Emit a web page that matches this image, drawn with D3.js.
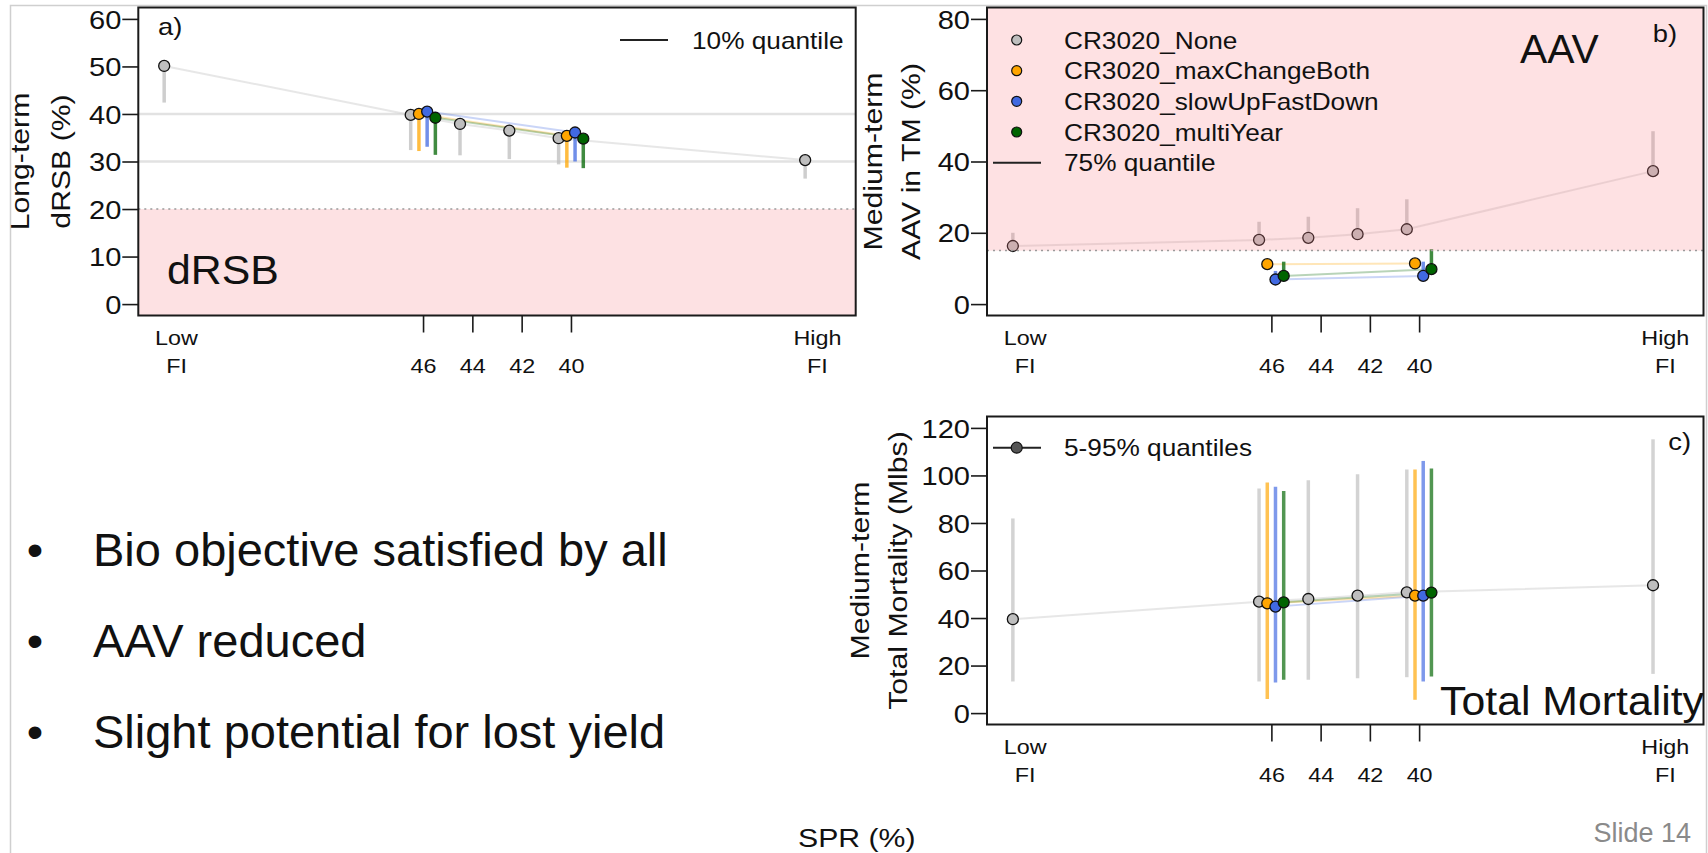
<!DOCTYPE html>
<html>
<head>
<meta charset="utf-8">
<script src="https://cdn.jsdelivr.net/npm/d3@7"></script>
<style>
  html, body { margin: 0; padding: 0; background: #fff; }
  svg { display: block; font-family: "Liberation Sans", Arial, sans-serif; }
</style>
</head>
<body>
<script>
// ===== Data =====
const xCats = ["Low FI", "46", "44", "42", "40", "High FI"];
const xSpr = [56, 46, 44, 42, 40, 30];       // where each category sits on the SPR axis
const spTicks = [46, 44, 42, 40];
const seriesNames = ["CR3020_None", "CR3020_maxChangeBoth", "CR3020_slowUpFastDown", "CR3020_multiYear"];

// a) long-term dRSB (%): median and 10% quantile
const drsbMed = [
  [50.1, 39.8, 37.9, 36.5, 34.9, 30.3],
  [null, 40.0, null, null, 35.4, null],
  [null, 40.5, null, null, 36.1, null],
  [null, 39.2, null, null, 34.8, null]
];
const drsbQ10 = [
  [42.4, 32.4, 31.3, 30.5, 29.4, 26.4],
  [null, 32.2, null, null, 28.7, null],
  [null, 33.1, null, null, 30.0, null],
  [null, 31.4, null, null, 28.6, null]
];

// b) medium-term AAV in TM (%): median and 75% quantile
const aavMed = [
  [16.3, 18.0, 18.6, 19.6, 21.0, 37.3],
  [null, 11.2, null, null, 11.4, null],
  [null, 6.9, null, null, 7.9, null],
  [null, 7.9, null, null, 9.8, null]
];
const aavQ75 = [
  [20.0, 23.1, 24.5, 26.9, 29.4, 48.5],
  [null, 12.3, null, null, 12.5, null],
  [null, 9.3, null, null, 11.9, null],
  [null, 11.9, null, null, 15.4, null]
];

// c) medium-term total mortality (Mlbs): median, 5% and 95% quantiles
const tmMed = [
  [39.5, 46.9, 48.0, 49.4, 50.8, 53.8],
  [null, 46.2, null, null, 49.4, null],
  [null, 44.8, null, null, 49.4, null],
  [null, 46.6, null, null, 50.7, null]
];
const tmQ05 = [
  [13.3, 13.3, 14.0, 14.7, 15.1, 16.5],
  [null, 5.9, null, null, 5.6, null],
  [null, 12.9, null, null, 13.3, null],
  [null, 14.0, null, null, 15.4, null]
];
const tmQ95 = [
  [81.9, 94.5, 98.0, 100.5, 102.5, 115.2],
  [null, 97.0, null, null, 102.5, null],
  [null, 95.2, null, null, 106.1, null],
  [null, 93.5, null, null, 102.9, null]
];

const bullets = ["Bio objective satisfied by all", "AAV reduced", "Slight potential for lost yield"];

// ===== Style =====
const colors = ["#bebebe", "#ffa500", "#4169e1", "#006400"];
const dodge = [0.5, 0.1667, -0.1667, -0.5];   // SPR units, gray sits left of the tick
const SX = 1.14;                               // R text is a little wider than Arial

const svg = d3.select("body").append("svg").attr("width", 1708).attr("height", 853);

function stext(parent, x, y, str, size, o = {}) {
  return parent.append("text")
    .attr("transform", `translate(${x},${y}) rotate(${o.rot || 0}) scale(${o.sx || SX},1)`)
    .attr("text-anchor", o.anchor || "start")
    .attr("fill", o.fill || "#111")
    .style("font-size", size + "px")
    .text(str);
}

// slide frame
svg.append("path").attr("d", "M10.5,853V5.5H1706.5V853")
  .attr("fill", "none").attr("stroke", "#cfcfcf").attr("stroke-width", 1.5);

// ===== Panels =====
function panel(box, yMax, yStep, med, lo, hi, cfg) {
  const x = d3.scaleLinear().domain([57.55, 28.45]).range([box.l, box.r]);
  const pad = yMax * 0.04;
  const y = d3.scaleLinear().domain([-pad, yMax + pad]).range([box.b, box.t]);
  const g = svg.append("g");

  if (cfg.under) cfg.under(g, x, y);

  // connecting lines
  med.forEach((vals, s) => {
    const pts = vals.map((v, i) => ({ v, sp: xSpr[i] + dodge[s] })).filter(d => d.v != null);
    g.append("path").datum(pts)
      .attr("d", d3.line().x(d => x(d.sp)).y(d => y(d.v)))
      .attr("fill", "none")
      .attr("stroke", s === 0 ? "#d0d0d0" : colors[s])
      .attr("stroke-opacity", s === 0 ? 0.5 : 0.28)
      .attr("stroke-width", 2);
  });

  // quantile segments
  med.forEach((vals, s) => {
    vals.forEach((v, i) => {
      if (v == null) return;
      const a = lo ? lo[s][i] : v;
      const b = hi ? hi[s][i] : v;
      g.append("line")
        .attr("x1", x(xSpr[i] + dodge[s])).attr("x2", x(xSpr[i] + dodge[s]))
        .attr("y1", y(a)).attr("y2", y(b))
        .attr("stroke", colors[s]).attr("stroke-opacity", cfg.segAlpha)
        .attr("stroke-width", 3.5);
    });
  });

  // points
  med.forEach((vals, s) => {
    vals.forEach((v, i) => {
      if (v == null) return;
      g.append("circle")
        .attr("cx", x(xSpr[i] + dodge[s])).attr("cy", y(v)).attr("r", 5.5)
        .attr("fill", colors[s]).attr("stroke", "#111").attr("stroke-width", 1.3);
    });
  });

  if (cfg.over) cfg.over(g, x, y);

  // frame
  g.append("rect").attr("x", box.l).attr("y", box.t)
    .attr("width", box.r - box.l).attr("height", box.b - box.t)
    .attr("fill", "none").attr("stroke", "#1a1a1a").attr("stroke-width", 2);

  // y axis
  const ya = g.append("g").attr("transform", `translate(${box.l},0)`)
    .call(d3.axisLeft(y).tickValues(d3.range(0, yMax + 1, yStep)).tickSize(16).tickSizeOuter(0));
  ya.select(".domain").remove();
  ya.selectAll(".tick line").attr("stroke", "#1a1a1a").attr("stroke-width", 1.6);
  ya.selectAll(".tick text")
    .attr("x", null).attr("dy", "0.36em").attr("fill", "#111")
    .attr("transform", `translate(-17,0) scale(${SX},1)`)
    .style("font-size", "25.5px").style("font-family", "Liberation Sans, Arial, sans-serif");

  // x axis
  const xa = g.append("g").attr("transform", `translate(0,${box.b})`)
    .call(d3.axisBottom(x).tickValues(spTicks).tickSize(17).tickFormat(d => d));
  xa.select(".domain").remove();
  xa.selectAll(".tick line").attr("stroke", "#1a1a1a").attr("stroke-width", 1.6);
  xa.selectAll(".tick text")
    .attr("y", null).attr("dy", null).attr("fill", "#111")
    .attr("transform", `translate(0,57) scale(${SX},1)`)
    .style("font-size", "20.5px").style("font-family", "Liberation Sans, Arial, sans-serif");
  [[xSpr[0], "Low"], [xSpr[5], "High"]].forEach(([sp, word]) => {
    stext(g, x(sp), box.b + 29.5, word, 20.5, { anchor: "middle" });
    stext(g, x(sp), box.b + 57, "FI", 20.5, { anchor: "middle" });
  });

  // y title (two lines)
  const cy = (box.t + box.b) / 2;
  stext(g, cfg.ylabX[0], cy, cfg.ylab[0], 26.5, { rot: -90, anchor: "middle" });
  stext(g, cfg.ylabX[1], cy, cfg.ylab[1], 26.5, { rot: -90, anchor: "middle" });

  return { g, x, y };
}

const boxA = { l: 138.3, r: 855.7, t: 7.5, b: 315.5 };
const boxB = { l: 987, r: 1703.5, t: 7.5, b: 315.5 };
const boxC = { l: 987, r: 1703.5, t: 416.5, b: 724.5 };

// a) dRSB
panel(boxA, 60, 10, drsbMed, drsbQ10, null, {
  segAlpha: 0.75,
  ylab: ["Long-term", "dRSB (%)"], ylabX: [29, 70],
  under: (g, x, y) => {
    g.append("rect").attr("x", boxA.l).attr("y", y(20))
      .attr("width", boxA.r - boxA.l).attr("height", boxA.b - y(20)).attr("fill", "#fde1e3");
    g.append("line").attr("x1", boxA.l).attr("x2", boxA.r).attr("y1", y(20)).attr("y2", y(20))
      .attr("stroke", "#9a9a9a").attr("stroke-width", 1.5).attr("stroke-dasharray", "2,4");
    [40, 30].forEach(v => g.append("line").attr("x1", boxA.l).attr("x2", boxA.r)
      .attr("y1", y(v)).attr("y2", y(v)).attr("stroke", "#e2e2e2").attr("stroke-width", 2.5));
  },
  over: (g) => {
    stext(g, 167, 284, "dRSB", 40, { sx: 1.07 });
    stext(g, 158, 35, "a)", 24);
    g.append("line").attr("x1", 620).attr("x2", 668).attr("y1", 40).attr("y2", 40)
      .attr("stroke", "#222").attr("stroke-width", 2);
    stext(g, 692, 48.5, "10% quantile", 23);
  }
});

// b) AAV
panel(boxB, 80, 20, aavMed, null, aavQ75, {
  segAlpha: 0.75,
  ylab: ["Medium-term", "AAV in TM (%)"], ylabX: [882, 920],
  over: (g, x, y) => {
    g.append("rect").attr("x", boxB.l).attr("y", boxB.t)
      .attr("width", boxB.r - boxB.l).attr("height", y(15) - boxB.t)
      .attr("fill", "rgb(250,128,140)").attr("fill-opacity", 0.24);
    g.append("line").attr("x1", boxB.l).attr("x2", boxB.r).attr("y1", y(15)).attr("y2", y(15))
      .attr("stroke", "#9a9a9a").attr("stroke-width", 1.5).attr("stroke-dasharray", "2,4");
    const rows = [40, 70.7, 101.3, 132, 162.7];
    seriesNames.forEach((name, s) => {
      g.append("circle").attr("cx", 1016.7).attr("cy", rows[s]).attr("r", 5)
        .attr("fill", colors[s]).attr("stroke", "#111").attr("stroke-width", 1.2);
      stext(g, 1064, rows[s] + 8.5, name, 23);
    });
    g.append("line").attr("x1", 993).attr("x2", 1041).attr("y1", rows[4]).attr("y2", rows[4])
      .attr("stroke", "#222").attr("stroke-width", 2);
    stext(g, 1064, rows[4] + 8.5, "75% quantile", 23);
    stext(g, 1520, 62.7, "AAV", 40, { sx: 1.02 });
    stext(g, 1677, 42, "b)", 24, { anchor: "end" });
  }
});

// c) Total mortality
panel(boxC, 120, 20, tmMed, tmQ05, tmQ95, {
  segAlpha: 0.68,
  ylab: ["Medium-term", "Total Mortality (Mlbs)"], ylabX: [869, 907],
  over: (g) => {
    g.append("line").attr("x1", 993).attr("x2", 1041).attr("y1", 447.7).attr("y2", 447.7)
      .attr("stroke", "#222").attr("stroke-width", 2);
    g.append("circle").attr("cx", 1016.7).attr("cy", 447.7).attr("r", 5.5)
      .attr("fill", "#555").attr("stroke", "#111").attr("stroke-width", 1.2);
    stext(g, 1064, 456.2, "5-95% quantiles", 23);
    stext(g, 1691, 450, "c)", 24, { anchor: "end" });
    stext(g, 1704, 715, "Total Mortality", 40, { anchor: "end", sx: 1.07 });
  }
});

// ===== Slide text =====
const bulletY = [566, 657, 748];
bullets.forEach((b, i) => {
  stext(svg, 35, bulletY[i], "\u2022", 47, { anchor: "middle", sx: 1 });
  stext(svg, 93, bulletY[i], b, 47, { sx: 1 });
});
stext(svg, 798, 846.5, "SPR (%)", 26.5);
stext(svg, 1691, 841.5, "Slide 14", 27, { anchor: "end", sx: 1, fill: "#8a8a8a" });
</script>
</body>
</html>
